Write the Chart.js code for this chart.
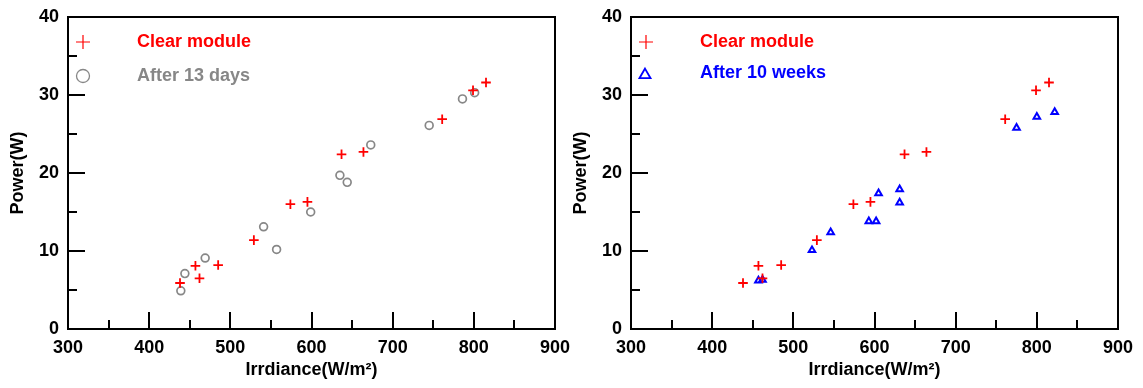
<!DOCTYPE html>
<html>
<head>
<meta charset="utf-8">
<script src="https://cdn.jsdelivr.net/npm/chart.js@4.4.0/dist/chart.umd.js"></script>
<style>
    html, body { margin: 0; padding: 0; background: #fff; }
    #wrap { position: relative; width: 1143px; height: 388px; overflow: hidden; }
    #wrap canvas { position: absolute; top: 0; }
    #chartDays { left: 0; }
    #chartWeeks { left: 560px; }
</style>
</head>
<body>
<div id="wrap">
    <canvas id="chartDays" width="572" height="388"></canvas>
    <canvas id="chartWeeks" width="583" height="388"></canvas>
</div>
<script>
// Axis ticks (labelled majors + unlabelled minors)
const xTickValues = [300, 400, 500, 600, 700, 800, 900];
const xMinorTicks = [350, 450, 550, 650, 750, 850];
const yTickValues = [0, 10, 20, 30, 40];
const yMinorTicks = [5, 15, 25, 35];

// Clear module: irradiance (W/m²) and power (W)
const clearIrr = [438, 457, 462, 485, 529, 574, 595, 637, 664, 761, 799, 815];
const clearPower = [5.9, 8.1, 6.5, 8.2, 11.4, 16.0, 16.3, 22.4, 22.7, 26.9, 30.6, 31.6];

// Soiled module after 13 days
const days13Irr = [439, 444, 469, 541, 557, 599, 635, 644, 673, 745, 786, 801];
const days13Power = [4.9, 7.1, 9.1, 13.1, 10.2, 15.0, 19.7, 18.8, 23.6, 26.1, 29.5, 30.3];

// Soiled module after 10 weeks
const weeks10Irr = [457, 462, 523, 546, 593, 602, 605, 631, 631, 775, 800, 822];
const weeks10Power = [6.2, 6.3, 10.1, 12.4, 13.8, 13.8, 17.4, 17.9, 16.2, 25.8, 27.2, 27.8];

const RED = '#ff0000';
const GREY = '#878787';
const BLUE = '#0000ff';
const FONT_FAMILY = '"Liberation Sans", Arial, Helvetica, sans-serif';

function toPoints(xs, ys) {
    return xs.map((v, i) => ({ x: v, y: ys[i] }));
}

// Frame around the plot area plus inward-pointing tick marks
const frameTicks = {
    id: 'frameTicks',
    beforeDatasetsDraw(chart) {
        const { ctx, chartArea: a, scales: { x, y } } = chart;
        ctx.save();
        ctx.strokeStyle = '#000';
        ctx.lineWidth = 2;
        ctx.strokeRect(a.left, a.top, a.right - a.left, a.bottom - a.top);
        ctx.beginPath();
        const xMarks = (vals, len) => vals.forEach(v => {
            const px = Math.round(x.getPixelForValue(v));
            ctx.moveTo(px, a.bottom);
            ctx.lineTo(px, a.bottom - len);
        });
        const yMarks = (vals, len) => vals.forEach(v => {
            const py = Math.round(y.getPixelForValue(v));
            ctx.moveTo(a.left, py);
            ctx.lineTo(a.left + len, py);
        });
        xMarks(xTickValues, 17);
        xMarks(xMinorTicks, 9);
        yMarks(yTickValues, 17);
        yMarks(yMinorTicks, 9);
        ctx.stroke();
        ctx.restore();
    }
};

// Small marker drawing used by the in-plot legend
function drawSymbol(ctx, style, cx, cy, r) {
    ctx.beginPath();
    if (style === 'cross') {
        ctx.moveTo(cx - r, cy); ctx.lineTo(cx + r, cy);
        ctx.moveTo(cx, cy - r); ctx.lineTo(cx, cy + r);
    } else if (style === 'triangle') {
        for (let k = 0; k < 3; k++) {
            const ang = k * 2 * Math.PI / 3;
            const px = cx + Math.sin(ang) * r;
            const py = cy - Math.cos(ang) * r;
            if (k === 0) ctx.moveTo(px, py); else ctx.lineTo(px, py);
        }
        ctx.closePath();
    } else {
        ctx.arc(cx, cy, r, 0, Math.PI * 2);
    }
    ctx.stroke();
}

// Legend drawn inside the top-left corner of the plot
const cornerLegend = {
    id: 'cornerLegend',
    afterDraw(chart, args, opts) {
        const ctx = chart.ctx;
        ctx.save();
        ctx.font = 'bold 18px ' + FONT_FAMILY;
        ctx.textBaseline = 'middle';
        ctx.textAlign = 'left';
        (opts.items || []).forEach(item => {
            ctx.strokeStyle = item.color;
            ctx.lineWidth = item.lineWidth;
            drawSymbol(ctx, item.style, item.symbolX, item.symbolY, item.radius);
            ctx.fillStyle = item.color;
            ctx.fillText(item.label, opts.textX, item.textY);
        });
        ctx.restore();
    }
};

// Build one Irradiance/Power scatter panel
function createPanel(canvasId, cfg) {
    const canvas = document.getElementById(canvasId);
    const tickFont = { family: FONT_FAMILY, size: 18, weight: 'bold' };
    return new Chart(canvas, {
        type: 'scatter',
        data: { datasets: cfg.datasets },
        options: {
            responsive: false,
            animation: false,
            events: [],
            layout: { padding: { left: 0, top: 17, right: cfg.rightPad, bottom: 0 } },
            plugins: {
                legend: { display: false },
                tooltip: { enabled: false },
                cornerLegend: cfg.legend
            },
            scales: {
                x: {
                    type: 'linear',
                    min: 300,
                    max: 900,
                    afterBuildTicks: s => { s.ticks = xTickValues.map(v => ({ value: v })); },
                    afterFit: s => {
                        s.height = 59;
                        // end labels may overhang; the layout padding already leaves room
                        s.paddingLeft = 0;
                        s.paddingRight = 0;
                    },
                    ticks: { font: tickFont, color: '#000', padding: 8, maxRotation: 0, autoSkip: false },
                    grid: { display: false, drawTicks: false },
                    border: { display: false },
                    title: {
                        display: true,
                        text: 'Irrdiance(W/m²)',
                        font: tickFont,
                        color: '#000',
                        padding: { top: 0, bottom: 7 }
                    }
                },
                y: {
                    type: 'linear',
                    min: 0,
                    max: 40,
                    afterBuildTicks: s => { s.ticks = yTickValues.map(v => ({ value: v })); },
                    afterFit: s => {
                        s.width = cfg.yWidth;
                        // let the layout padding alone decide the top edge
                        s.paddingTop = 0;
                        s.paddingBottom = 0;
                    },
                    ticks: { font: tickFont, color: '#000', padding: 9 },
                    grid: { display: false, drawTicks: false },
                    border: { display: false },
                    title: {
                        display: true,
                        text: 'Power(W)',
                        font: tickFont,
                        color: '#000',
                        padding: { top: cfg.titlePad, bottom: 0 }
                    }
                }
            }
        },
        plugins: [frameTicks, cornerLegend]
    });
}

const clearSet = {
    label: 'Clear module',
    data: toPoints(clearIrr, clearPower),
    pointStyle: 'cross',
    pointRadius: 4.8,
    pointBorderWidth: 1.8,
    borderColor: RED,
    backgroundColor: RED
};

createPanel('chartDays', {
    rightPad: 17,
    yWidth: 68,
    titlePad: 7,
    datasets: [
        clearSet,
        {
            label: 'After 13 days',
            data: toPoints(days13Irr, days13Power),
            pointStyle: 'circle',
            pointRadius: 3.9,
            pointBorderWidth: 1.7,
            borderColor: GREY,
            backgroundColor: 'rgba(255,255,255,0)'
        }
    ],
    legend: {
        textX: 137,
        items: [
            { label: 'Clear module', color: RED, style: 'cross', radius: 7, lineWidth: 1.2, symbolX: 83, symbolY: 42, textY: 42 },
            { label: 'After 13 days', color: GREY, style: 'circle', radius: 6.5, lineWidth: 1.3, symbolX: 83, symbolY: 76, textY: 76 }
        ]
    }
});

createPanel('chartWeeks', {
    rightPad: 25,
    yWidth: 71,
    titlePad: 10,
    datasets: [
        Object.assign({}, clearSet, { data: toPoints(clearIrr, clearPower) }),
        {
            label: 'After 10 weeks',
            data: toPoints(weeks10Irr, weeks10Power),
            pointStyle: 'triangle',
            pointRadius: 3.8,
            pointBorderWidth: 2,
            borderColor: BLUE,
            backgroundColor: 'rgba(255,255,255,0)'
        }
    ],
    legend: {
        textX: 140,
        items: [
            { label: 'Clear module', color: RED, style: 'cross', radius: 7, lineWidth: 1.2, symbolX: 86, symbolY: 42, textY: 42 },
            { label: 'After 10 weeks', color: BLUE, style: 'triangle', radius: 6.4, lineWidth: 1.8, symbolX: 85, symbolY: 75, textY: 73 }
        ]
    }
});
</script>
</body>
</html>
